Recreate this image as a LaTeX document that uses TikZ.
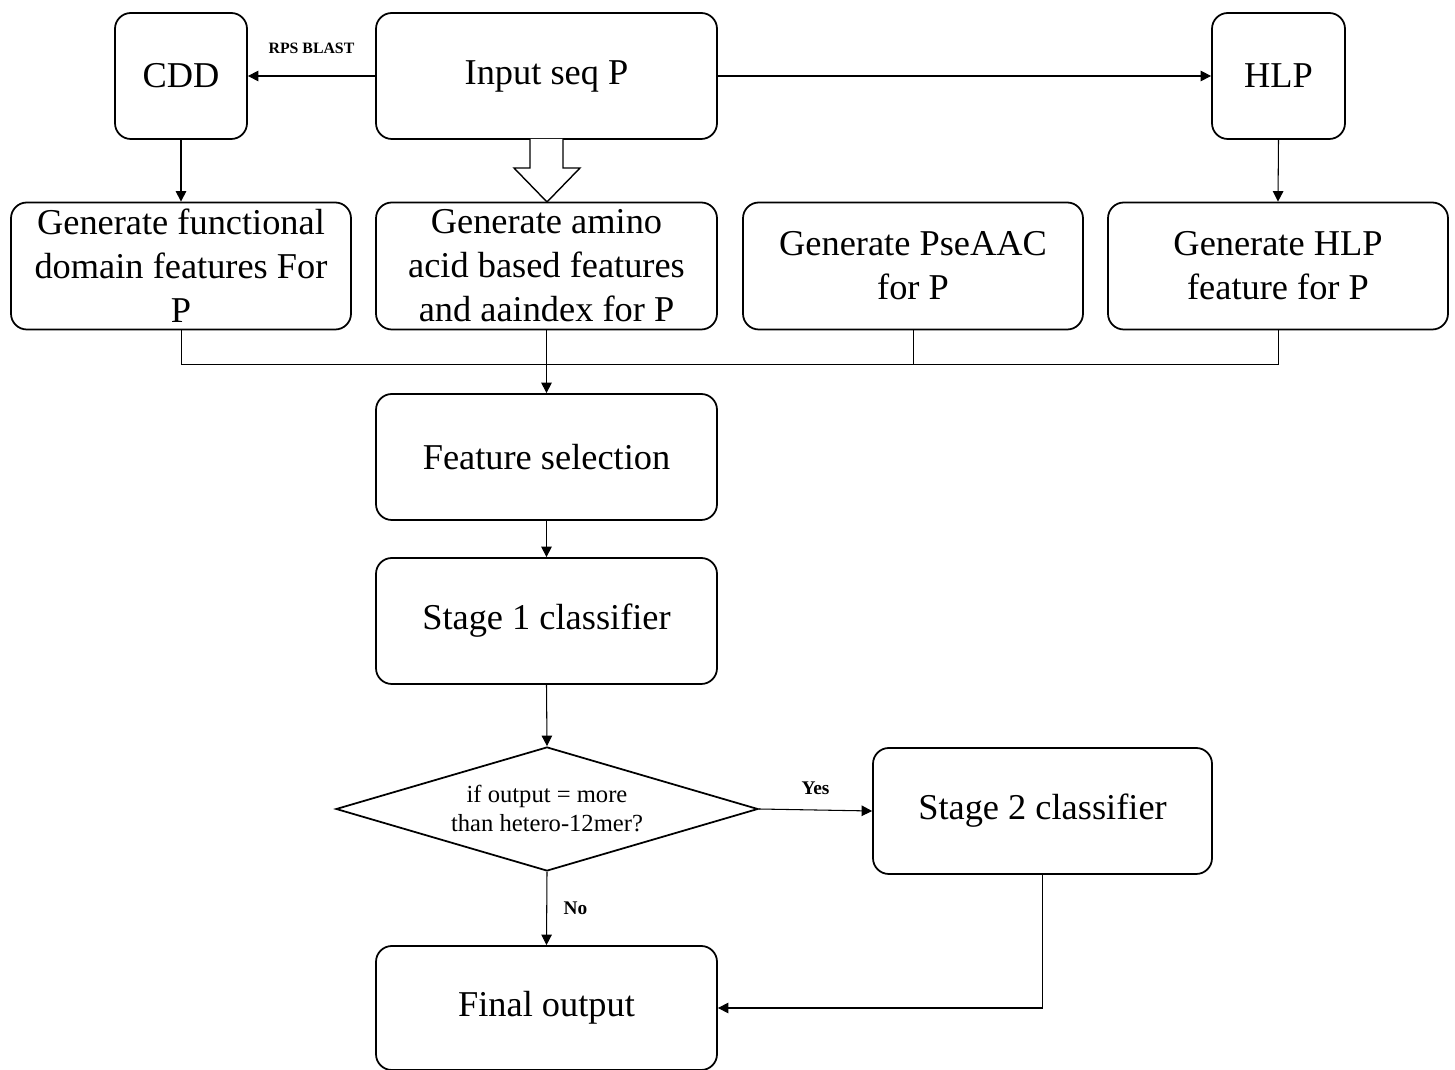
\documentclass[tikz,border=0pt]{standalone}
\usepackage{fontspec}
\setmainfont{Liberation Serif}
\usetikzlibrary{shapes.geometric,arrows.meta}
\begin{document}
\begin{tikzpicture}[x=0.02cm,y=-0.02cm,
  box/.style={draw,line width=1pt,rounded corners=9pt,inner sep=0pt,align=center,
    font=\fontsize{20.7}{25}\selectfont},
  conn/.style={line width=0.6pt,-{Triangle[length=6pt,width=6pt]}},
  plain/.style={line width=0.5pt},
  lbl/.style={font=\fontsize{9}{11}\bfseries\selectfont}]
\path[use as bounding box] (0,0) rectangle (1455,1070);
\node[box,minimum width=132*0.02cm,minimum height=126*0.02cm] (cdd) at (181,76) {CDD};
\node[box,minimum width=341*0.02cm,minimum height=126*0.02cm] (in) at (546.5,76) {Input seq P};
\node[box,minimum width=133*0.02cm,minimum height=126*0.02cm] (hlp) at (1278.5,76) {HLP};
\node[box,minimum width=340*0.02cm,minimum height=127*0.02cm] (gf) at (181,266) {Generate functional\\domain features For\\P};
\node[box,minimum width=341*0.02cm,minimum height=127*0.02cm] (ga) at (546.5,266) {Generate amino\\acid based features\\and aaindex for P};
\node[box,minimum width=340*0.02cm,minimum height=127*0.02cm] (gp) at (913,266) {Generate PseAAC\\for P};
\node[box,minimum width=340*0.02cm,minimum height=127*0.02cm] (gh) at (1278,266) {Generate HLP\\feature for P};
\node[box,minimum width=341*0.02cm,minimum height=126*0.02cm] (fs) at (546.5,457) {Feature selection};
\node[box,minimum width=341*0.02cm,minimum height=126*0.02cm] (s1) at (546.5,621) {Stage 1 classifier};
\node[draw,line width=1pt,diamond,aspect=3.4,minimum width=422*0.02cm,minimum height=124*0.02cm,inner sep=0pt,align=center,
  font=\fontsize{14}{16.5}\selectfont] (dec) at (547,809) {if output = more\\than hetero-12mer?};
\node[box,minimum width=339*0.02cm,minimum height=126*0.02cm] (s2) at (1042.5,811) {Stage 2 classifier};
\node[box,minimum width=341*0.02cm,minimum height=124*0.02cm] (fo) at (546.5,1008) {Final output};
% top connectors
\draw[conn] (in.west) -- node[lbl,above=9pt] (rps) {RPS BLAST} (cdd.east);
\draw[conn] (in.east) -- (hlp.west);
\draw[conn] (cdd.south) -- (gf.north);
\draw[conn] (hlp.south) -- (gh.north);
% hollow arrow
\draw[line width=0.8pt,fill=white] (530,139) -- (530,168) -- (514,168) -- (547,202) -- (580,168) -- (563,168) -- (563,139);
% bus
\coordinate (bus) at (546.5,364);
\draw[plain] (gf.south) |- (bus);
\draw[plain] (gh.south) |- (bus);
\draw[plain] (gp.south) -- (gp.south |- bus);
\draw[conn] (ga.south) -- (fs.north);
\draw[conn] (fs.south) -- (s1.north);
\draw[conn] (s1.south) -- (dec.north);
\draw[conn] (dec.east) -- node[lbl,above=5pt,font=\fontsize{11}{13}\bfseries\selectfont] (yes) {Yes} (s2.west);
\draw[conn] (dec.south) -- node[lbl,right=6pt,font=\fontsize{11}{13}\bfseries\selectfont] (no) {No} (fo.north);
\draw[conn] (s2.south) |- (fo.east);
\end{tikzpicture}
\end{document}
